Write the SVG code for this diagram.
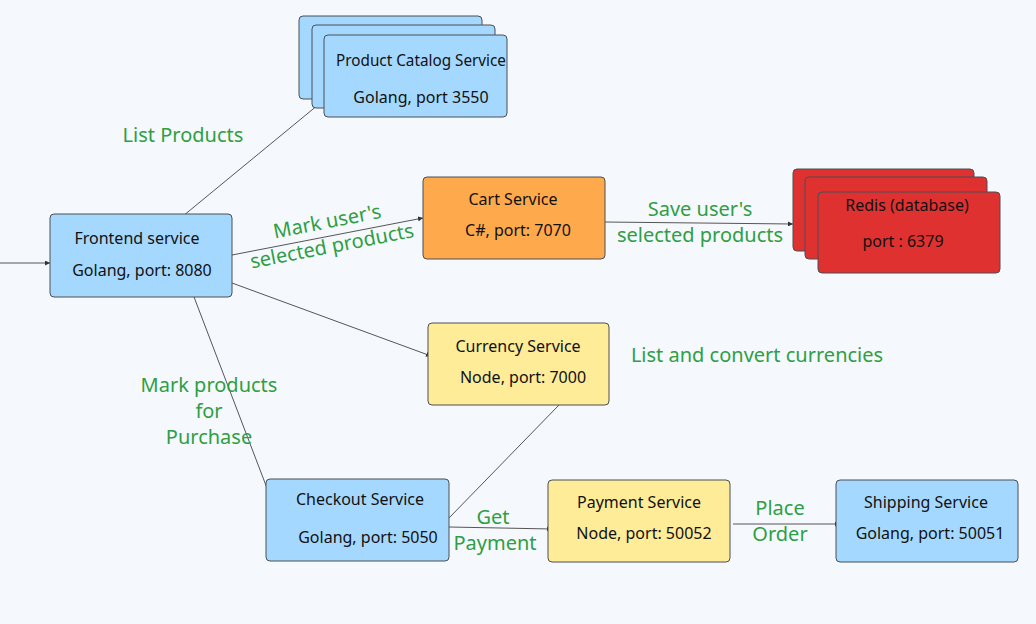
<svg xmlns="http://www.w3.org/2000/svg" width="1036" height="624" viewBox="0 0 1036 624">
<defs>
<marker id="ah" viewBox="0 0 6 6" refX="6" refY="3" markerWidth="5" markerHeight="5" orient="auto" markerUnits="userSpaceOnUse">
<path d="M0,0 L6,3 L0,6 z" fill="#333"/>
</marker>
</defs>
<style>
.bg{fill:#f5f9fd}
.n{stroke:#4a4f55;stroke-width:1}
.blue{fill:#a5d8ff}
.orange{fill:#ffa94d}
.yellow{fill:#ffec99}
.red{fill:#e03131}
.t{font-family:"Noto Sans","Open Sans",sans-serif;font-size:16px;fill:#111;text-anchor:middle}
.lbl{font-family:"Noto Sans","Open Sans",sans-serif;font-size:20px;fill:#2f9e44;text-anchor:middle}
.c{stroke:#555;stroke-width:1;fill:none}
.ca{stroke:#555;stroke-width:1;fill:none;marker-end:url(#ah)}
</style>
<rect class="bg" x="0" y="0" width="1036" height="624"/>

<g id="connectors">
<line class="ca" x1="0" y1="263" x2="50" y2="263"/>
<line class="ca" x1="183" y1="216" x2="324" y2="100"/>
<line class="ca" x1="232" y1="255" x2="423" y2="218"/>
<line class="ca" x1="604" y1="222" x2="793" y2="224"/>
<line class="ca" x1="232" y1="283" x2="431" y2="356"/>
<line class="ca" x1="194" y1="297" x2="270" y2="496"/>
<line class="c" x1="559" y1="405" x2="449" y2="518"/>
<line class="ca" x1="449" y1="527" x2="552" y2="529"/>
<line class="ca" x1="733" y1="524" x2="840" y2="524"/>
</g>

<g id="product-catalog">
<rect class="n blue" x="299" y="16" width="183" height="83" rx="4"/>
<rect class="n blue" x="312" y="25" width="183" height="83" rx="4"/>
<rect class="n blue" x="324" y="35" width="183" height="82" rx="4"/>
<text class="t" x="421" y="66" textLength="170" lengthAdjust="spacingAndGlyphs">Product Catalog Service</text>
<text class="t" x="421" y="103">Golang, port 3550</text>
</g>

<g id="frontend">
<rect class="n blue" x="50" y="214" width="182" height="83" rx="4"/>
<text class="t" x="137" y="244">Frontend service</text>
<text class="t" x="142" y="276">Golang, port: 8080</text>
</g>

<g id="cart">
<rect class="n orange" x="423" y="177" width="182" height="82" rx="4"/>
<text class="t" x="513" y="205">Cart Service</text>
<text class="t" x="518" y="236">C#, port: 7070</text>
</g>

<g id="redis">
<rect class="n red" x="793" y="169" width="181" height="82" rx="4"/>
<rect class="n red" x="805" y="177" width="182" height="82" rx="4"/>
<rect class="n red" x="818" y="192" width="182" height="81" rx="4"/>
<text class="t" x="907" y="211">Redis (database)</text>
<text class="t" x="903" y="247">port : 6379</text>
</g>

<g id="currency">
<rect class="n yellow" x="428" y="323" width="181" height="82" rx="4"/>
<text class="t" x="518" y="352">Currency Service</text>
<text class="t" x="523" y="383">Node, port: 7000</text>
</g>

<g id="checkout">
<rect class="n blue" x="266" y="479" width="183" height="82" rx="4"/>
<text class="t" x="360" y="505">Checkout Service</text>
<text class="t" x="368" y="543">Golang, port: 5050</text>
</g>

<g id="payment">
<rect class="n yellow" x="548" y="480" width="182" height="82" rx="4"/>
<text class="t" x="639" y="508">Payment Service</text>
<text class="t" x="644" y="539">Node, port: 50052</text>
</g>

<g id="shipping">
<rect class="n blue" x="836" y="480" width="182" height="82" rx="4"/>
<text class="t" x="926" y="508">Shipping Service</text>
<text class="t" x="930" y="539">Golang, port: 50051</text>
</g>

<g id="labels">
<text class="lbl" x="183" y="142">List Products</text>
<g transform="rotate(-11 330 236)">
<text class="lbl" x="330" y="228">Mark user's</text>
<text class="lbl" x="330" y="253">selected products</text>
</g>
<text class="lbl" x="700" y="216">Save user's</text>
<text class="lbl" x="700" y="242">selected products</text>
<text class="lbl" x="757" y="362">List and convert currencies</text>
<text class="lbl" x="209" y="392">Mark products</text>
<text class="lbl" x="209" y="418">for</text>
<text class="lbl" x="209" y="444">Purchase</text>
<text class="lbl" x="493" y="524">Get</text>
<text class="lbl" x="495" y="550">Payment</text>
<text class="lbl" x="780" y="515">Place</text>
<text class="lbl" x="780" y="541">Order</text>
</g>
</svg>
